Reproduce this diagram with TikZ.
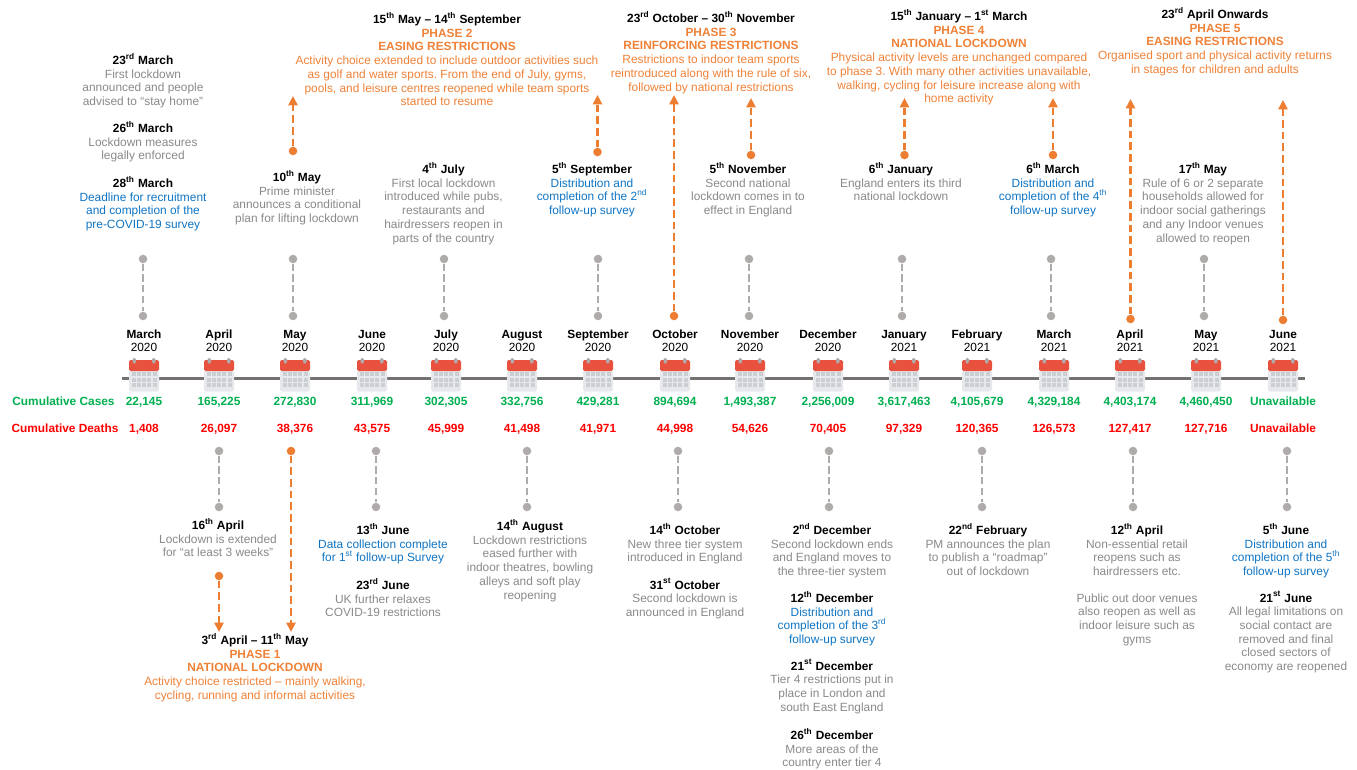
\documentclass[tikz,border=0pt]{standalone}
\usepackage{fontspec}
\setmainfont{Liberation Sans}
\usetikzlibrary{arrows.meta}
\definecolor{gtxt}{HTML}{8A8A8A}
\definecolor{btxt}{HTML}{0F75C4}
\definecolor{otxt}{HTML}{EF8238}
\definecolor{oarr}{HTML}{ED7D31}
\definecolor{gstem}{HTML}{AFABAB}
\definecolor{gcase}{HTML}{00B050}
\definecolor{rcase}{HTML}{FF0000}
\definecolor{calred}{HTML}{E9513F}
\definecolor{calbody}{HTML}{E6E8EC}
\definecolor{calcell}{HTML}{CBCFD4}
\definecolor{axisc}{HTML}{767171}
\newcommand{\dt}[3]{{\color{black}\bfseries #1\textsuperscript{#2} #3}}
\newcommand{\ph}[1]{{\bfseries #1}}
\newcommand{\mystrut}{\rule{0pt}{8pt}}
\tikzset{
  blk/.style={anchor=north,inner sep=0pt,align=center,font=\fontsize{8.92pt}{10.28pt}\selectfont\frenchspacing},
  num/.style={anchor=base,inner sep=0pt,font=\fontsize{8.9pt}{10pt}\selectfont\bfseries},
  mon/.style={anchor=north,inner sep=0pt,align=center,text=black,font=\fontsize{8.9pt}{10.1pt}\selectfont},
  gdot/.style={circle,fill=gstem,inner sep=0pt,minimum size=6.4pt},
  odot/.style={circle,fill=oarr,inner sep=0pt,minimum size=6.4pt},
  gstemline/.style={draw=gstem,line width=2.2pt,dash pattern=on 5.5pt off 2.6pt},
  oline/.style={draw=oarr,line width=2.2pt,dash pattern=on 5.8pt off 3pt,-{Triangle[length=7pt,width=6.8pt]}},
}
\newcommand{\blk}[5][]{\node[blk,text=#4] (#1) at (#2,-#3+6.9) {\mystrut #5};}
\newcommand{\gstemm}[4]{%
  \node[gdot] (#1a) at (#2,-#3) {};
  \node[gdot] (#1b) at (#2,-#4) {};
  \draw[gstemline] (#1a) -- (#1b);}
\newcommand{\oarrow}[4]{%
  \node[odot] (#1a) at (#2,-#3) {};
  \coordinate (#1b) at (#2,-#4);
  \draw[oline] (#1a) -- (#1b);}
% name, x, month, year, cases, deaths
\newcommand{\monthcol}[6]{%
  \node[mon] (m#1) at (#2,-327.5) {\mystrut\textbf{#3}\\#4};
  \begin{scope}[shift={(#2,-375)}]
    \fill[calbody,rounded corners=1.2pt] (-15,5) rectangle (15,-16.5);
    \fill[calred,rounded corners=1.2pt] (-15,15) rectangle (15,4);
    \fill[calred] (-15,8) rectangle (15,5);
    \fill[gstem,rounded corners=1pt] (-11.5,17) rectangle (-8,11.5);
    \fill[gstem,rounded corners=1pt] (8,17) rectangle (11.5,11.5);
    \foreach \cx in {-10.5,-5.3,0,5.3,10.5}
      \foreach \cy in {1,-4.5,-10}
        \fill[calcell] (\cx-2,\cy-2) rectangle (\cx+2,\cy+2);
  \end{scope}
  \node[num,text=gcase] (c#1) at (#2,-405) {#5};
  \node[num,text=rcase] (d#1) at (#2,-432) {#6};}
\begin{document}
\begin{tikzpicture}[x=0.75pt,y=0.75pt]
\useasboundingbox (0,0) rectangle (1357,-770);
\fill[white] (0,0) rectangle (1357,-770);
% axis
\coordinate (axl) at (122,-378.5);
\coordinate (axr) at (1305,-378.5);
\draw[axisc,line width=2.6pt] (axl) -- (axr);
% months
\monthcol{a}{144}{March}{2020}{22,145}{1,408}
\monthcol{b}{219}{April}{2020}{165,225}{26,097}
\monthcol{c}{295}{May}{2020}{272,830}{38,376}
\monthcol{d}{372}{June}{2020}{311,969}{43,575}
\monthcol{e}{446}{July}{2020}{302,305}{45,999}
\monthcol{f}{522}{August}{2020}{332,756}{41,498}
\monthcol{g}{598}{September}{2020}{429,281}{41,971}
\monthcol{h}{675}{October}{2020}{894,694}{44,998}
\monthcol{i}{750}{November}{2020}{1,493,387}{54,626}
\monthcol{j}{828}{December}{2020}{2,256,009}{70,405}
\monthcol{k}{904}{January}{2021}{3,617,463}{97,329}
\monthcol{l}{977}{February}{2021}{4,105,679}{120,365}
\monthcol{m}{1054}{March}{2021}{4,329,184}{126,573}
\monthcol{n}{1130}{April}{2021}{4,403,174}{127,417}
\monthcol{o}{1206}{May}{2021}{4,460,450}{127,716}
\monthcol{p}{1283}{June}{2021}{Unavailable}{Unavailable}
\node[num,text=gcase] (lc) at (63.5,-405) {Cumulative Cases};
\node[num,text=rcase] (ld) at (65,-432) {Cumulative Deaths};
% grey stems
\gstemm{u1}{143}{259}{316}
\gstemm{u2}{293}{259}{316}
\gstemm{u3}{444}{259}{316}
\gstemm{u4}{598}{259}{316}
\gstemm{u5}{749}{259}{316}
\gstemm{u6}{902}{259}{316}
\gstemm{u7}{1051}{259}{316}
\gstemm{u8}{1204}{259}{316}
\gstemm{l1}{219}{451}{507}
\gstemm{l2}{376}{451}{507}
\gstemm{l3}{527}{451}{507}
\gstemm{l4}{678}{451}{507}
\gstemm{l5}{829}{451}{507}
\gstemm{l6}{982}{451}{507}
\gstemm{l7}{1133}{451}{507}
\gstemm{l8}{1287}{451}{507}
% orange arrows
\oarrow{o1}{293}{151}{96}
\oarrow{o2}{597.5}{152}{95}
\oarrow{o3}{674}{316}{95}
\oarrow{o4}{751}{155}{98}
\oarrow{o5}{904.5}{155}{98}
\oarrow{o6}{1053}{155}{98}
\oarrow{o7}{1130.5}{319}{99}
\oarrow{o8}{1283}{320}{100}
\oarrow{o9}{291}{451}{632}
\oarrow{o10}{219}{576}{632}
% upper text
\blk[t1]{143}{60}{gtxt}{\dt{23}{rd}{March}\\First lockdown\\announced and people\\advised to “stay home”}
\blk[t2]{143}{128}{gtxt}{\dt{26}{th}{March}\\Lockdown measures\\legally enforced}
\blk[t3]{143}{183}{btxt}{\dt{28}{th}{March}\\Deadline for recruitment\\and completion of the\\pre-COVID-19 survey}
\blk[t4]{297}{177}{gtxt}{\dt{10}{th}{May}\\Prime minister\\announces a conditional\\plan for lifting lockdown}
\blk[t5]{443.5}{169}{gtxt}{\dt{4}{th}{July}\\First local lockdown\\introduced while pubs,\\restaurants and\\hairdressers reopen in\\parts of the country}
\blk[t6]{592}{169}{btxt}{\dt{5}{th}{September}\\Distribution and\\completion of the 2\textsuperscript{nd}\\follow-up survey}
\blk[t7]{748}{169}{gtxt}{\dt{5}{th}{November}\\Second national\\lockdown comes in to\\effect in England}
\blk[t8]{901}{169}{gtxt}{\dt{6}{th}{January}\\England enters its third\\national lockdown}
\blk[t9]{1053}{169}{btxt}{\dt{6}{th}{March}\\Distribution and\\completion of the 4\textsuperscript{th}\\follow-up survey}
\blk[t10]{1203}{169}{gtxt}{\dt{17}{th}{May}\\Rule of 6 or 2 separate\\households allowed for\\indoor social gatherings\\and any Indoor venues\\allowed to reopen}
% phases
\blk[p2]{447}{19}{otxt}{\dt{15}{th}{May – 14\textsuperscript{th} September}\\\ph{PHASE 2}\\\ph{EASING RESTRICTIONS}\\Activity choice extended to include outdoor activities such\\as golf and water sports. From the end of July, gyms,\\pools, and leisure centres reopened while team sports\\started to resume}
\blk[p3]{711}{18}{otxt}{\dt{23}{rd}{October – 30\textsuperscript{th} November}\\\ph{PHASE 3}\\\ph{REINFORCING RESTRICTIONS}\\Restrictions to indoor team sports\\reintroduced along with the rule of six,\\followed by national restrictions}
\blk[p4]{959}{16}{otxt}{\dt{15}{th}{January – 1\textsuperscript{st} March}\\\ph{PHASE 4}\\\ph{NATIONAL LOCKDOWN}\\Physical activity levels are unchanged compared\\to phase 3. With many other activities unavailable,\\walking, cycling for leisure increase along with\\home activity}
\blk[p5]{1215}{14}{otxt}{\dt{23}{rd}{April Onwards}\\\ph{PHASE 5}\\\ph{EASING RESTRICTIONS}\\Organised sport and physical activity returns\\in stages for children and adults}
\blk[p1]{255}{640}{otxt}{\dt{3}{rd}{April – 11\textsuperscript{th} May}\\\ph{PHASE 1}\\\ph{NATIONAL LOCKDOWN}\\Activity choice restricted – mainly walking,\\cycling, running and informal activities}
% lower text
\blk[b1]{218}{525}{gtxt}{\dt{16}{th}{April}\\Lockdown is extended\\for “at least 3 weeks”}
\blk[b2]{383}{530}{btxt}{\dt{13}{th}{June}\\Data collection complete\\for 1\textsuperscript{st} follow-up Survey}
\blk[b3]{383}{585}{gtxt}{\dt{23}{rd}{June}\\UK further relaxes\\COVID-19 restrictions}
\blk[b4]{530}{526}{gtxt}{\dt{14}{th}{August}\\Lockdown restrictions\\eased further with\\indoor theatres, bowling\\alleys and soft play\\reopening}
\blk[b5]{685}{530}{gtxt}{\dt{14}{th}{October}\\New three tier system\\introduced in England}
\blk[b6]{685}{585}{gtxt}{\dt{31}{st}{October}\\Second lockdown is\\announced in England}
\blk[b7]{832}{530}{gtxt}{\dt{2}{nd}{December}\\Second lockdown ends\\and England moves to\\the three-tier system}
\blk[b8]{832}{598}{btxt}{\dt{12}{th}{December}\\Distribution and\\completion of the 3\textsuperscript{rd}\\follow-up survey}
\blk[b9]{832}{666}{gtxt}{\dt{21}{st}{December}\\Tier 4 restrictions put in\\place in London and\\south East England}
\blk[b10]{832}{735}{gtxt}{\dt{26}{th}{December}\\More areas of the\\country enter tier 4}
\blk[b11]{988}{530}{gtxt}{\dt{22}{nd}{February}\\PM announces the plan\\to publish a “roadmap”\\out of lockdown}
\blk[b12]{1137}{530}{gtxt}{\dt{12}{th}{April}\\Non-essential retail\\reopens such as\\hairdressers etc.}
\blk[b13]{1137}{598}{gtxt}{Public out door venues\\also reopen as well as\\indoor leisure such as\\gyms}
\blk[b14]{1286}{530}{btxt}{\dt{5}{th}{June}\\Distribution and\\completion of the 5\textsuperscript{th}\\follow-up survey}
\blk[b15]{1286}{598}{gtxt}{\dt{21}{st}{June}\\All legal limitations on\\social contact are\\removed and final\\closed sectors of\\economy are reopened}
\end{tikzpicture}
\end{document}
